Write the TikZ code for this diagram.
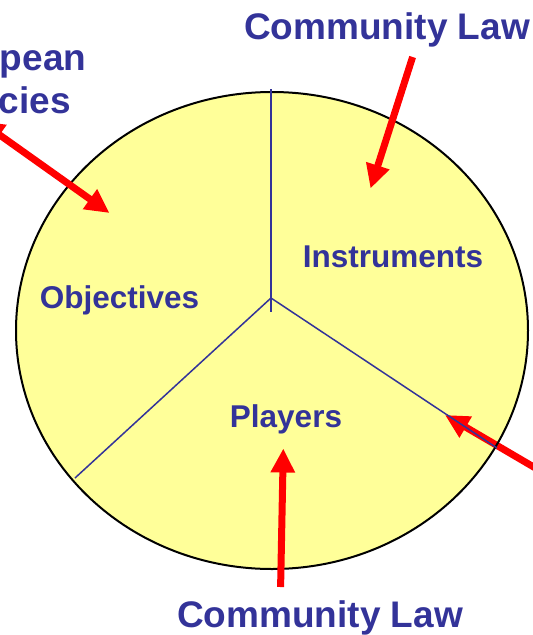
\documentclass[tikz,border=0pt]{standalone}
\usepackage{fontspec}
\setmainfont{Liberation Sans}
\usetikzlibrary{arrows.meta}
\definecolor{labelblue}{HTML}{333399}
\definecolor{pieyellow}{HTML}{FFFF99}
\definecolor{arrowred}{HTML}{FF0000}
\tikzset{
  biglabel/.style={text=labelblue, font=\fontsize{37}{43}\selectfont\bfseries, anchor=base, inner sep=0pt},
  sectorlabel/.style={text=labelblue, font=\fontsize{31.5}{37}\selectfont\bfseries, anchor=base, inner sep=0pt},
  spoke/.style={draw=labelblue, line width=1.5pt},
  redarrow/.style={draw=arrowred, line width=7pt, -{Triangle[length=24pt,width=23pt]}},
  redarrowboth/.style={draw=arrowred, line width=7pt, {Triangle[length=24pt,width=23pt]}-{Triangle[length=24pt,width=23pt]}}
}
\begin{document}
\begin{tikzpicture}[x=1pt,y=-1pt]
\useasboundingbox (0,0) rectangle (533,635);
\clip (0,0) rectangle (533,635);
% pie
\fill[pieyellow] (272,330.5) ellipse [x radius=256pt, y radius=238.5pt];
% points
\coordinate (hub) at (271,298);
\coordinate (spT) at (271,89);
\coordinate (spD) at (271,312);
\coordinate (spL) at (75,478);
\coordinate (spR) at (497,448);
\coordinate (a4s) at (590,500);
\coordinate (a4e) at (445,415);
% arrow under the outline
\draw[redarrow] (a4s) -- (a4e);
\draw[black, line width=2pt] (272,330.5) ellipse [x radius=256pt, y radius=238.5pt];
% spokes
\draw[spoke] (spT) -- (spD);
\draw[spoke] (hub) -- (spL);
\draw[spoke] (hub) -- (spR);
% labels
\node[biglabel] (cltop) at (387,39) {Community Law};
\node[biglabel] (eu1) at (1,70) {European};
\node[biglabel] (eu2) at (1,113) {Policies};
\node[sectorlabel] (instr) at (393,267) {Instruments};
\node[sectorlabel] (obj) at (119.5,308) {Objectives};
\node[sectorlabel] (play) at (286,427) {Players};
\node[biglabel] (clbot) at (320,627) {Community Law};
% arrow end points
\coordinate (a1s) at (412.6,57);
\coordinate (a1e) at (370.5,188.5);
\coordinate (a2s) at (-20,121);
\coordinate (a2e) at (109.5,213);
\coordinate (a3s) at (280.6,587);
\coordinate (a3e) at (283.3,448.5);
\draw[redarrow] (a1s) -- (a1e);
\draw[redarrowboth] (a2s) -- (a2e);
\draw[redarrow] (a3s) -- (a3e);
\end{tikzpicture}
\end{document}
